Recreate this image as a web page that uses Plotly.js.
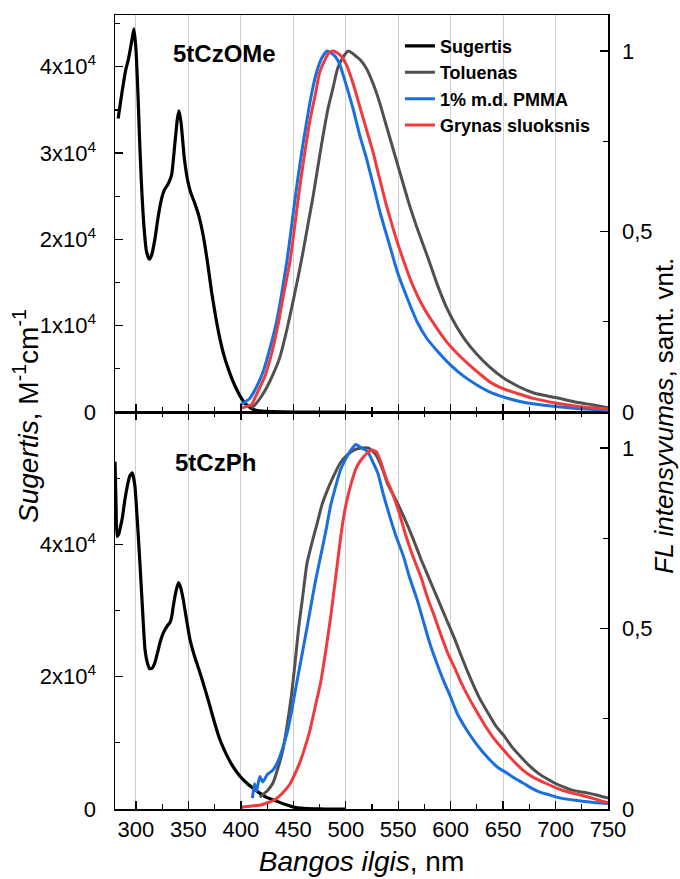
<!DOCTYPE html>
<html>
<head>
<meta charset="utf-8">
<script src="https://cdn.plot.ly/plotly-3.0.1.min.js"></script>
<style>html,body{margin:0;padding:0;background:#fff;}#chart{width:680px;height:879px;}</style>
</head>
<body>
<div id="chart"></div>
<script>
// ---------- 5tCzOMe (top panel) ----------
const absOMeX = [283, 286, 290, 293, 296, 298, 300, 302, 303.3, 305, 307, 310, 312.7, 315, 318, 321, 324, 327, 331, 334, 337, 339.5, 341, 343, 346, 349, 352, 356, 360, 364, 368, 372, 376, 380, 384, 388, 392, 396, 400, 404, 408, 412, 420, 430, 450, 480, 500];
const absOMeY = [34000, 36500, 39500, 41000, 43000, 44400, 42000, 36500, 32000, 27000, 22500, 18600, 17700, 18200, 20000, 22500, 24500, 25700, 26500, 27500, 31000, 34000, 34900, 33500, 29500, 27000, 25500, 24200, 22700, 20500, 17500, 14000, 11000, 8500, 6500, 5000, 3700, 2600, 1700, 1000, 600, 300, 100, 50, 0, 0, 0];

const flOMeTolX = [410, 413.5, 420, 425, 430, 437, 444, 450, 455, 459, 464, 469, 474, 478, 483, 488, 492, 495, 499, 502, 506, 510, 514, 520, 526, 532, 539, 545, 552, 560, 568, 578, 587, 596, 606, 615, 625, 637, 650, 665, 680, 700, 720, 735, 750];
const flOMeTolY = [0.01, 0.02, 0.045, 0.07, 0.10, 0.15, 0.23, 0.31, 0.38, 0.44, 0.52, 0.60, 0.69, 0.76, 0.84, 0.90, 0.95, 0.97, 0.99, 1.0, 0.995, 0.985, 0.975, 0.95, 0.91, 0.86, 0.79, 0.73, 0.66, 0.58, 0.51, 0.43, 0.355, 0.29, 0.235, 0.195, 0.16, 0.125, 0.095, 0.07, 0.052, 0.04, 0.027, 0.02, 0.012];

const flOMePmmaX = [400, 404, 408, 415, 421, 428, 434, 439, 444, 449, 453, 458, 463, 468, 472, 477, 482, 486, 490, 494, 500, 507, 513, 520, 527, 533, 541, 549, 558, 568, 577, 587, 600, 612, 625, 637, 650, 665, 680, 700, 720, 750];
const flOMePmmaY = [0.02, 0.028, 0.036, 0.07, 0.11, 0.18, 0.25, 0.33, 0.42, 0.53, 0.62, 0.72, 0.81, 0.89, 0.94, 0.98, 1.0, 0.995, 0.985, 0.965, 0.91, 0.84, 0.77, 0.70, 0.62, 0.55, 0.47, 0.39, 0.32, 0.25, 0.205, 0.17, 0.13, 0.10, 0.075, 0.056, 0.042, 0.03, 0.022, 0.015, 0.01, 0.005];

const flOMeFilmX = [400, 405, 410, 416, 423, 430, 436, 441, 447, 452, 456, 461, 466, 471, 475, 480, 484, 488, 492, 496, 501, 507, 514, 520, 526, 532, 539, 547, 555, 564, 574, 585, 596, 607, 618, 628, 637, 650, 665, 680, 700, 720, 735, 750];
const flOMeFilmY = [0.01, 0.015, 0.02, 0.055, 0.10, 0.17, 0.25, 0.33, 0.42, 0.53, 0.62, 0.72, 0.81, 0.88, 0.94, 0.975, 0.995, 1.0, 0.995, 0.985, 0.96, 0.91, 0.84, 0.78, 0.72, 0.65, 0.57, 0.49, 0.42, 0.35, 0.29, 0.24, 0.195, 0.16, 0.13, 0.105, 0.084, 0.065, 0.05, 0.037, 0.025, 0.016, 0.012, 0.008];

// ---------- 5tCzPh (bottom panel) ----------
const absPhX = [280, 281, 282, 283.5, 285, 287, 289.5, 292, 294, 296.5, 299, 300.5, 302, 304, 305.7, 307, 308.6, 311, 313, 315.5, 318, 320.5, 323, 325.5, 327.6, 330, 332.4, 334, 335.5, 338, 340.5, 342.5, 345, 348, 351.5, 356, 361, 366, 370.6, 375, 380, 386, 392.5, 399, 405.8, 412, 418, 424, 430.6, 437, 444, 450, 460, 470, 480, 500];
const absPhY = [52500, 46000, 41200, 41500, 42500, 44000, 46800, 49000, 50300, 50800, 48800, 45500, 41800, 36500, 31700, 28000, 24100, 22000, 21200, 21300, 22100, 23600, 25200, 26400, 27100, 27700, 28200, 29000, 30600, 32800, 34200, 33500, 31700, 28800, 25600, 23000, 20600, 18000, 15500, 13000, 10500, 8300, 6400, 5000, 3900, 3100, 2400, 1800, 1400, 1000, 600, 300, 100, 30, 0, 0];

const flPhTolX = [418, 425, 430.6, 435, 440, 444, 448, 451.5, 455, 459, 463, 468, 472.6, 477, 482, 488, 495, 501, 508, 515, 522, 528, 534, 540, 548, 556, 564, 572, 580, 588, 596, 604, 612, 619.6, 627, 635.6, 643, 651.6, 659, 667, 675, 683, 691, 699, 707, 715, 723, 731, 740, 750];
const flPhTolY = [0.033, 0.05, 0.072, 0.11, 0.163, 0.23, 0.31, 0.40, 0.50, 0.59, 0.68, 0.74, 0.79, 0.84, 0.88, 0.92, 0.96, 0.98, 0.995, 1.0, 1.0, 0.985, 0.95, 0.90, 0.855, 0.805, 0.75, 0.69, 0.635, 0.58, 0.525, 0.47, 0.41, 0.357, 0.31, 0.266, 0.23, 0.20, 0.17, 0.144, 0.12, 0.10, 0.085, 0.072, 0.062, 0.053, 0.048, 0.044, 0.038, 0.03];

const flPhPmmaX = [411, 413, 415, 418, 421, 425, 430.6, 435, 440, 444, 448, 452, 456.5, 461, 466, 471, 476, 481, 485.5, 490, 495, 500, 505, 509.7, 515, 521, 526, 530.6, 536, 542, 548, 555, 561, 568, 574, 580, 586, 593, 600, 606, 614, 622, 630, 637.5, 645, 653.5, 661, 669, 677, 685, 693, 701, 709, 717, 724, 731, 740, 750];
const flPhPmmaY = [0.03, 0.07, 0.05, 0.09, 0.075, 0.095, 0.108, 0.13, 0.17, 0.21, 0.265, 0.33, 0.40, 0.47, 0.55, 0.63, 0.70, 0.77, 0.84, 0.89, 0.94, 0.97, 0.995, 1.01, 1.0, 0.99, 0.96, 0.93, 0.87, 0.81, 0.755, 0.70, 0.64, 0.58, 0.52, 0.46, 0.41, 0.357, 0.31, 0.266, 0.225, 0.19, 0.16, 0.136, 0.115, 0.10, 0.085, 0.072, 0.058, 0.047, 0.04, 0.033, 0.028, 0.025, 0.022, 0.02, 0.017, 0.015];

const flPhFilmX = [400, 410, 420, 426, 432, 440, 447, 452, 456, 461, 466, 471, 476, 481, 485.5, 489, 492, 495, 498, 501.5, 505, 510, 514.5, 520, 525, 529, 533, 538, 544.5, 551, 557, 564, 572, 578, 585, 591, 597.5, 604, 610, 617, 624, 632, 640, 650, 659, 668, 678, 690, 701, 712, 723, 735, 746, 750];
const flPhFilmY = [0.005, 0.008, 0.012, 0.018, 0.025, 0.045, 0.07, 0.10, 0.127, 0.17, 0.22, 0.285, 0.35, 0.44, 0.53, 0.61, 0.68, 0.75, 0.81, 0.86, 0.90, 0.945, 0.967, 0.985, 0.995, 0.99, 0.965, 0.92, 0.875, 0.82, 0.76, 0.70, 0.64, 0.585, 0.53, 0.48, 0.43, 0.39, 0.35, 0.31, 0.274, 0.235, 0.20, 0.165, 0.136, 0.11, 0.089, 0.072, 0.058, 0.047, 0.039, 0.03, 0.02, 0.018];

// ---------- labels ----------
const seriesNames = ['Sugertis', 'Toluenas', '1% m.d. PMMA', 'Grynas sluoksnis'];
const seriesColors = ['#000000', '#505050', '#1a6fe0', '#ef3b3e'];
const xTickVals = [300, 350, 400, 450, 500, 550, 600, 650, 700, 750];
const topAbsTickVals = [0, 10000, 20000, 30000, 40000];
const topAbsTickText = ['0', '1x10<sup>4</sup>', '2x10<sup>4</sup>', '3x10<sup>4</sup>', '4x10<sup>4</sup>'];
const botAbsTickVals = [0, 20000, 40000];
const botAbsTickText = ['0', '2x10<sup>4</sup>', '4x10<sup>4</sup>'];
const flTickVals = [0, 0.5, 1];
const flTickText = ['0', '0,5', '1'];
const panelLabels = ['5tCzOMe', '5tCzPh'];

const FONT = 'Liberation Sans, Arial, sans-serif';
const LW = 3;
function ln(i, w) { return {color: seriesColors[i], width: w || LW, shape: 'spline', smoothing: 0.5}; }

const traces = [
  // top panel
  {x: absOMeX, y: absOMeY, xaxis: 'x2', yaxis: 'y3', mode: 'lines', name: seriesNames[0], line: ln(0, 3.2), legendrank: 1},
  {x: flOMeTolX, y: flOMeTolY, xaxis: 'x2', yaxis: 'y4', mode: 'lines', name: seriesNames[1], line: ln(1), legendrank: 2},
  {x: flOMePmmaX, y: flOMePmmaY, xaxis: 'x2', yaxis: 'y4', mode: 'lines', name: seriesNames[2], line: ln(2), legendrank: 3},
  {x: flOMeFilmX, y: flOMeFilmY, xaxis: 'x2', yaxis: 'y4', mode: 'lines', name: seriesNames[3], line: ln(3), legendrank: 4},
  // bottom panel
  {x: absPhX, y: absPhY, xaxis: 'x', yaxis: 'y', mode: 'lines', name: seriesNames[0], line: ln(0, 3.2), showlegend: false},
  {x: flPhTolX, y: flPhTolY, xaxis: 'x', yaxis: 'y2', mode: 'lines', name: seriesNames[1], line: ln(1), showlegend: false},
  {x: flPhPmmaX, y: flPhPmmaY, xaxis: 'x', yaxis: 'y2', mode: 'lines', name: seriesNames[2], line: ln(2), showlegend: false},
  {x: flPhFilmX, y: flPhFilmY, xaxis: 'x', yaxis: 'y2', mode: 'lines', name: seriesNames[3], line: ln(3), showlegend: false}
];

const xCommon = {
  range: [280, 750], tickmode: 'array', tickvals: xTickVals,
  ticks: 'inside', ticklen: 8, tickwidth: 1.3, tickcolor: '#000',
  minor: {tickmode: 'linear', tick0: 275, dtick: 25, ticks: 'inside', ticklen: 5, tickwidth: 1.2, tickcolor: '#000', showgrid: false},
  showgrid: true, gridcolor: '#cfcfcf', gridwidth: 1,
  showline: true, linecolor: '#000', linewidth: 1.5, zeroline: false,
  tickfont: {family: FONT, size: 22, color: '#000'}
};
const yAbsCommon = {
  side: 'left', ticks: 'inside', ticklen: 8, tickwidth: 1.3, tickcolor: '#000',
  showgrid: false, showline: true, linecolor: '#000', linewidth: 1.5, zeroline: false,
  tickmode: 'array', ticklabelstandoff: 13,
  tickfont: {family: FONT, size: 22, color: '#000'}
};
const yFlCommon = {
  side: 'right', range: [0, 1.1], tickmode: 'array', tickvals: flTickVals, ticktext: flTickText,
  ticks: 'inside', ticklen: 8, tickwidth: 1.3, tickcolor: '#000',
  minor: {tickmode: 'linear', tick0: 0, dtick: 0.25, ticks: 'inside', ticklen: 5, tickwidth: 1.2, tickcolor: '#000'},
  showgrid: false, showline: true, linecolor: '#000', linewidth: 1.5, zeroline: false,
  ticklabelstandoff: 8,
  tickfont: {family: FONT, size: 22, color: '#000'}
};

const layout = {
  width: 680, height: 879,
  margin: {l: 115, r: 72, t: 15, b: 70},
  paper_bgcolor: '#fff', plot_bgcolor: '#fff',
  font: {family: FONT, color: '#000'},
  showlegend: true,
  xaxis: Object.assign({}, xCommon, {
    domain: [0, 1], anchor: 'y', mirror: 'ticks',
    title: {text: '<i>Bangos ilgis</i>, nm', font: {family: FONT, size: 28, color: '#000'}, standoff: 10}
  }),
  xaxis2: Object.assign({}, xCommon, {
    domain: [0, 1], anchor: 'y3', matches: 'x', showticklabels: false, mirror: true
  }),
  yaxis: Object.assign({}, yAbsCommon, {
    domain: [0, 0.5], anchor: 'x', range: [0, 60000],
    tickvals: botAbsTickVals, ticktext: botAbsTickText,
    minor: {tickmode: 'linear', tick0: 0, dtick: 10000, ticks: 'inside', ticklen: 5, tickwidth: 1.2, tickcolor: '#000'}
  }),
  yaxis2: Object.assign({}, yFlCommon, {anchor: 'x', overlaying: 'y'}),
  yaxis3: Object.assign({}, yAbsCommon, {
    domain: [0.5, 1], anchor: 'x2', range: [0, 46000],
    tickvals: topAbsTickVals, ticktext: topAbsTickText,
    minor: {tickmode: 'linear', tick0: 0, dtick: 5000, ticks: 'inside', ticklen: 5, tickwidth: 1.2, tickcolor: '#000'}
  }),
  yaxis4: Object.assign({}, yFlCommon, {anchor: 'x2', overlaying: 'y3'}),
  legend: {
    x: 0.578, y: 0.984, xanchor: 'left', yanchor: 'top',
    bgcolor: 'rgba(0,0,0,0)', borderwidth: 0,
    font: {family: FONT, size: 18, color: '#000', weight: 'bold'},
    tracegroupgap: 0, itemwidth: 30
  },
  annotations: [
    {text: '<b>' + panelLabels[0] + '</b>', xref: 'paper', yref: 'paper', x: 0.1136, y: 0.951, xanchor: 'left', yanchor: 'middle', showarrow: false, font: {family: FONT, size: 24, color: '#000'}},
    {text: '<b>' + panelLabels[1] + '</b>', xref: 'paper', yref: 'paper', x: 0.1176, y: 0.436, xanchor: 'left', yanchor: 'middle', showarrow: false, font: {family: FONT, size: 24, color: '#000'}},
    {text: '<i>Sugertis</i>, M<sup>-1</sup>cm<sup>-1</sup>', xref: 'paper', yref: 'paper', x: -0.1805, y: 0.495, xanchor: 'center', yanchor: 'middle', textangle: -90, showarrow: false, font: {family: FONT, size: 28, color: '#000'}},
    {text: '<i>FL intensyvumas</i>, sant. vnt.', xref: 'paper', yref: 'paper', x: 1.113, y: 0.495, xanchor: 'center', yanchor: 'middle', textangle: -90, showarrow: false, font: {family: FONT, size: 26, color: '#000'}}
  ]
};

Plotly.newPlot('chart', traces, layout, {displayModeBar: false, staticPlot: true});
</script>
</body>
</html>
